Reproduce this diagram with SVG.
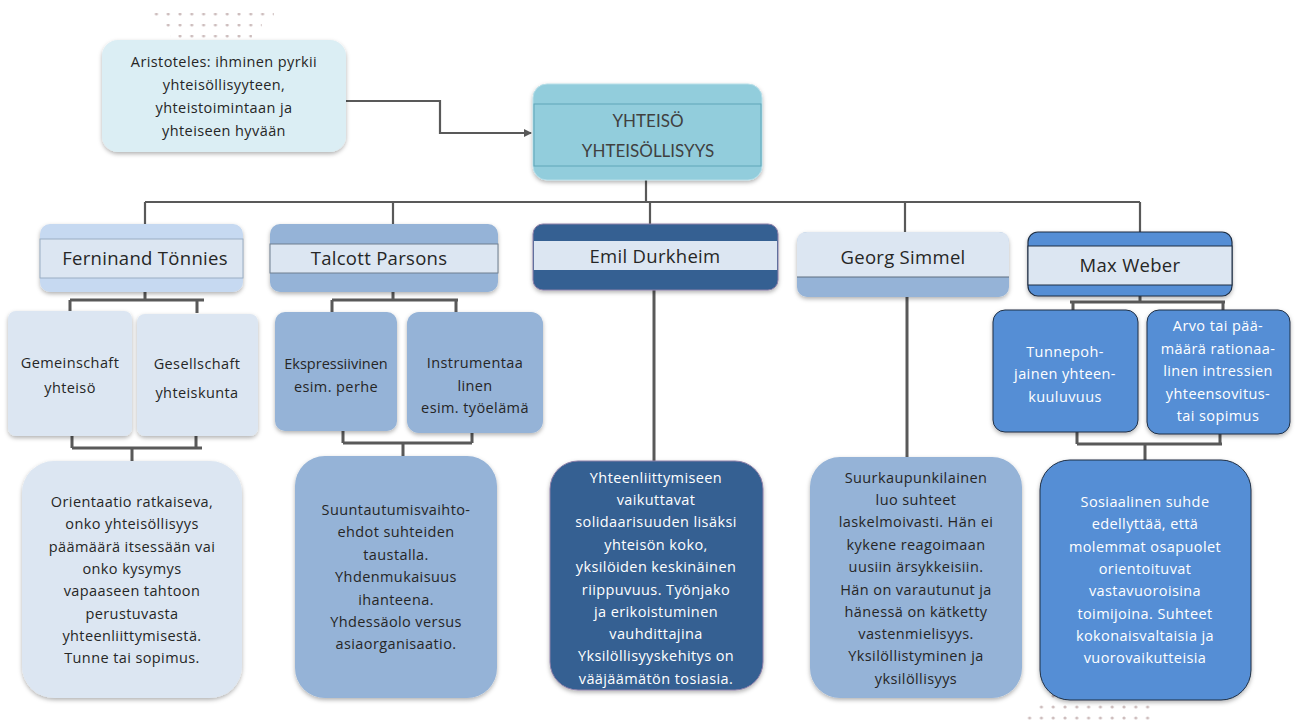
<svg xmlns="http://www.w3.org/2000/svg" width="1295" height="722" viewBox="0 0 1295 722">
<defs>
<filter id="sh" x="-10%" y="-10%" width="120%" height="125%">
<feDropShadow dx="0" dy="2" stdDeviation="2" flood-color="#000" flood-opacity="0.3"/>
</filter>
<marker id="arr" markerWidth="8" markerHeight="8" refX="7" refY="4" orient="auto" markerUnits="userSpaceOnUse">
<path d="M0,0 L8,4 L0,8 Z" fill="#595959"/>
</marker>
<pattern id="dots" width="11.8" height="11" patternUnits="userSpaceOnUse">
<circle cx="3" cy="3" r="1.6" fill="#cdbdbd"/>
</pattern>
</defs>
<style>
text{font-family:"Open Sans","Liberation Sans",sans-serif;text-anchor:middle;}
.t{font-size:14.5px;fill:#262626;letter-spacing:0.4px;}
.w{font-size:14.5px;fill:#ffffff;letter-spacing:0.4px;}
.h{font-size:18.5px;fill:#262626;letter-spacing:0.3px;}
.c{fill:none;stroke:#595959;stroke-width:3;}
.c2{fill:none;stroke:#595959;stroke-width:2.2;}
.band{fill:#dce6f2;stroke:#6f7f90;stroke-width:1;}
</style>
<rect width="1295" height="722" fill="#ffffff"/>
<g id="dots-top">
<rect x="150" y="13" width="124" height="6" fill="url(#dots)"/>
<rect x="160" y="24" width="102" height="6" fill="url(#dots)"/>
<rect x="170" y="35" width="82" height="6" fill="url(#dots)"/>
</g>
<g id="dots-bottom">
<rect x="1050" y="694" width="20" height="6" fill="url(#dots)"/>
<rect x="1038" y="705" width="112" height="6" fill="url(#dots)"/>
<rect x="1026" y="716" width="124" height="6" fill="url(#dots)"/>
</g>
<g id="connectors">
<path class="c2" d="M346,101 H440 V133 H531" marker-end="url(#arr)"/>
<path class="c2" d="M646,180 V202 M145,202 H1140 M145,202 V224 M393,202 V224 M650,202 V224 M905,202 V233 M1140,202 V232"/>
<path class="c" d="M145,292 V300 M70,300 H204 M70,300 V311 M197,300 V313"/>
<path class="c" d="M72,436 V448 M196,436 V448 M72,448 H202 M132,448 V461"/>
<path class="c" d="M393,292 V300 M332,300 H458 M332,300 V312 M456,300 V312"/>
<path class="c" d="M343,431 V443 M472,433 V443 M343,443 H472 M403,443 V456"/>
<path class="c" d="M654,290 V461"/>
<path class="c" d="M907,297 V457"/>
<path class="c" d="M1140,296 V302 M1070,302 H1225 M1073,302 V310 M1223,302 V310"/>
<path class="c" d="M1077,432 V444 M1220,434 V444 M1077,444 H1222 M1145,444 V460"/>
</g>
<g id="aristoteles">
<rect x="102" y="40" width="244" height="112" rx="16" fill="#dbeef4" filter="url(#sh)"/>
<text class="t" x="224" y="67">Aristoteles: ihminen pyrkii</text>
<text class="t" x="224" y="90">yhteisöllisyyteen,</text>
<text class="t" x="224" y="113">yhteistoimintaan ja</text>
<text class="t" x="224" y="136">yhteiseen hyvään</text>
</g>
<g id="yhteiso">
<rect x="533" y="84" width="229" height="96" rx="14" fill="#92cddc" stroke="#b7dee8" stroke-width="1" filter="url(#sh)"/>
<rect x="534" y="104" width="227" height="62" fill="#92cddc" stroke="#5fa6b8" stroke-width="1"/>
<text x="648" y="127" style="font-family:Lato,sans-serif;font-size:17px;fill:#404040">YHTEISÖ</text>
<text x="648" y="157" style="font-family:Lato,sans-serif;font-size:17px;fill:#404040">YHTEISÖLLISYYS</text>
</g>
<g id="tonnies">
<rect x="40" y="224" width="203" height="68" rx="10" fill="#c6d9f1" filter="url(#sh)"/>
<rect x="40" y="239" width="203" height="39" class="band" style="stroke:#9aaec4"/>
<text class="h" x="145" y="265">Ferninand Tönnies</text>
</g>
<g id="parsons">
<rect x="270" y="224" width="228" height="68" rx="10" fill="#95b3d7" filter="url(#sh)"/>
<rect x="270" y="244" width="228" height="29" class="band"/>
<text class="h" x="379" y="265">Talcott Parsons</text>
</g>
<g id="durkheim">
<rect x="533" y="224" width="245" height="66" rx="10" fill="#366092" stroke="#8c7fa8" stroke-width="1" filter="url(#sh)"/>
<rect x="534" y="241" width="243" height="29" fill="#dce6f2"/>
<text class="h" x="655" y="263">Emil Durkheim</text>
</g>
<g id="simmel">
<rect x="797" y="232" width="212" height="65" rx="10" fill="#95b3d7" filter="url(#sh)"/>
<path d="M797,277 V242 Q797,232 807,232 H999 Q1009,232 1009,242 V277 Z" fill="#dce6f2"/>
<line x1="797" y1="277" x2="1009" y2="277" stroke="#5f6f80" stroke-width="1"/>
<text class="h" x="903" y="264">Georg Simmel</text>
</g>
<g id="weber">
<rect x="1028" y="232" width="204" height="64" rx="10" fill="#558ed5" stroke="#1f2f44" stroke-width="1.2" filter="url(#sh)"/>
<rect x="1028" y="246" width="204" height="39" fill="#dce6f2" stroke="#1f2f44" stroke-width="1"/>
<text class="h" x="1130" y="272">Max Weber</text>
</g>
<g id="gemeinschaft">
<rect x="8" y="311" width="124" height="125" rx="8" fill="#dce6f2" filter="url(#sh)"/>
<text class="t" x="70" y="368">Gemeinschaft</text>
<text class="t" x="70" y="393">yhteisö</text>
</g>
<g id="gesellschaft">
<rect x="137" y="314" width="121" height="122" rx="8" fill="#dce6f2" filter="url(#sh)"/>
<text class="t" x="197" y="369">Gesellschaft</text>
<text class="t" x="197" y="398">yhteiskunta</text>
</g>
<g id="tonnies-text">
<rect x="22" y="461" width="220" height="237" rx="32" fill="#dce6f2" filter="url(#sh)"/>
<text class="t" x="132" y="507">Orientaatio ratkaiseva,</text>
<text class="t" x="132" y="529">onko yhteisöllisyys</text>
<text class="t" x="132" y="552">päämäärä itsessään vai</text>
<text class="t" x="132" y="574">onko kysymys</text>
<text class="t" x="132" y="596">vapaaseen tahtoon</text>
<text class="t" x="132" y="619">perustuvasta</text>
<text class="t" x="132" y="641">yhteenliittymisestä.</text>
<text class="t" x="132" y="663">Tunne tai sopimus.</text>
</g>
<g id="ekspressiivinen">
<rect x="275" y="312" width="122" height="119" rx="10" fill="#95b3d7" filter="url(#sh)"/>
<text class="t" x="336" y="369" style="letter-spacing:0">Ekspressiivinen</text>
<text class="t" x="336" y="392">esim. perhe</text>
</g>
<g id="instrumentaalinen">
<rect x="407" y="312" width="136" height="121" rx="12" fill="#95b3d7" filter="url(#sh)"/>
<text class="t" x="475" y="368">Instrumentaa</text>
<text class="t" x="475" y="391">linen</text>
<text class="t" x="475" y="413">esim. työelämä</text>
</g>
<g id="parsons-text">
<rect x="295" y="456" width="202" height="242" rx="30" fill="#95b3d7" filter="url(#sh)"/>
<text class="t" x="396" y="515">Suuntautumisvaihto-</text>
<text class="t" x="396" y="537">ehdot suhteiden</text>
<text class="t" x="396" y="560">taustalla.</text>
<text class="t" x="396" y="582">Yhdenmukaisuus</text>
<text class="t" x="396" y="605">ihanteena.</text>
<text class="t" x="396" y="627">Yhdessäolo versus</text>
<text class="t" x="396" y="649">asiaorganisaatio.</text>
</g>
<g id="durkheim-text">
<rect x="550" y="461" width="213" height="229" rx="28" fill="#366092" stroke="#8c7fa8" stroke-width="1" filter="url(#sh)"/>
<text class="w" x="656" y="483">Yhteenliittymiseen</text>
<text class="w" x="656" y="505">vaikuttavat</text>
<text class="w" x="656" y="527">solidaarisuuden lisäksi</text>
<text class="w" x="656" y="550">yhteisön koko,</text>
<text class="w" x="656" y="572">yksilöiden keskinäinen</text>
<text class="w" x="656" y="595">riippuvuus. Työnjako</text>
<text class="w" x="656" y="617">ja erikoistuminen</text>
<text class="w" x="656" y="639">vauhdittajina</text>
<text class="w" x="656" y="661">Yksilöllisyyskehitys on</text>
<text class="w" x="656" y="684">vääjäämätön tosiasia.</text>
</g>
<g id="simmel-text">
<rect x="810" y="457" width="212" height="241" rx="30" fill="#95b3d7" filter="url(#sh)"/>
<text class="t" x="916" y="483">Suurkaupunkilainen</text>
<text class="t" x="916" y="505">luo suhteet</text>
<text class="t" x="916" y="527">laskelmoivasti. Hän ei</text>
<text class="t" x="916" y="550">kykene reagoimaan</text>
<text class="t" x="916" y="572">uusiin ärsykkeisiin.</text>
<text class="t" x="916" y="595">Hän on varautunut ja</text>
<text class="t" x="916" y="617">hänessä on kätketty</text>
<text class="t" x="916" y="639">vastenmielisyys.</text>
<text class="t" x="916" y="661">Yksilöllistyminen ja</text>
<text class="t" x="916" y="684">yksilöllisyys</text>
</g>
<g id="tunnepohjainen">
<rect x="993" y="310" width="145" height="122" rx="12" fill="#558ed5" stroke="#1f2f44" stroke-width="1" filter="url(#sh)"/>
<text class="w" x="1065" y="357">Tunnepoh-</text>
<text class="w" x="1065" y="379">jainen yhteen-</text>
<text class="w" x="1065" y="402">kuuluvuus</text>
</g>
<g id="arvo">
<rect x="1147" y="310" width="143" height="124" rx="12" fill="#558ed5" stroke="#1f2f44" stroke-width="1" filter="url(#sh)"/>
<text class="w" x="1218" y="331">Arvo tai pää-</text>
<text class="w" x="1218" y="354">määrä rationaa-</text>
<text class="w" x="1218" y="376">linen intressien</text>
<text class="w" x="1218" y="399">yhteensovitus-</text>
<text class="w" x="1218" y="421">tai sopimus</text>
</g>
<g id="weber-text">
<rect x="1040" y="460" width="211" height="240" rx="30" fill="#558ed5" stroke="#1f2f44" stroke-width="1" filter="url(#sh)"/>
<text class="w" x="1145" y="507">Sosiaalinen suhde</text>
<text class="w" x="1145" y="529">edellyttää, että</text>
<text class="w" x="1145" y="552">molemmat osapuolet</text>
<text class="w" x="1145" y="574">orientoituvat</text>
<text class="w" x="1145" y="596">vastavuoroisina</text>
<text class="w" x="1145" y="619">toimijoina. Suhteet</text>
<text class="w" x="1145" y="641">kokonaisvaltaisia ja</text>
<text class="w" x="1145" y="663">vuorovaikutteisia</text>
</g>
</svg>
